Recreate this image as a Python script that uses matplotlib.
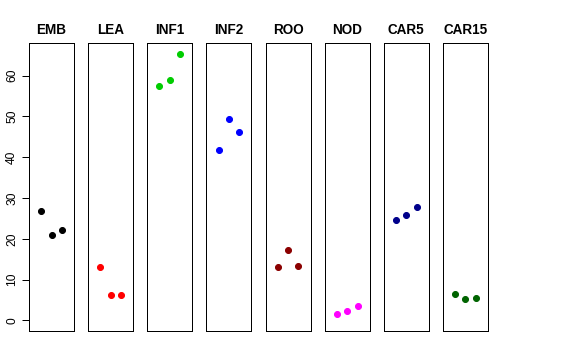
import matplotlib
matplotlib.use("Agg")
import matplotlib.pyplot as plt

plt.rcParams['font.family'] = ['Liberation Sans', 'DejaVu Sans']

# tissues and the three replicate values
tissues = ["EMB", "LEA", "INF1", "INF2", "ROO", "NOD", "CAR5", "CAR15"]
colours = ["black", "red", "#00CD00", "blue", "#8B0000", "magenta", "#00008B", "#006400"]
emb = [26.7, 20.9, 22.2]
lea = [13.0, 6.1, 6.1]
inf1 = [57.5, 58.9, 65.4]
inf2 = [41.8, 49.4, 46.2]
roo = [13.1, 17.3, 13.4]
nod = [1.6, 2.4, 3.4]
car5 = [24.7, 25.8, 27.7]
car15 = [6.4, 5.2, 5.4]
values = [emb, lea, inf1, inf2, roo, nod, car5, car15]
reps = [1, 2, 3]
yticks = [0, 10, 20, 30, 40, 50, 60]

W, H = 576, 360
fig = plt.figure(figsize=(W / 72, H / 72), dpi=72)

ymax = max(max(v) for v in values)
pad = 0.04 * ymax

for i, (name, col, vals) in enumerate(zip(tissues, colours, values)):
    left = 29 + i * 59.14
    ax = fig.add_axes([left / W, (H - 331) / H, 45 / W, 288 / H])
    ax.plot(reps, vals, 'o', color=col, ms=6, mec=col)
    ax.set_xlim(-0.16, 4.16)
    ax.set_ylim(-pad, ymax + pad)
    ax.set_xticks([])
    for s in ax.spines.values():
        s.set_color("black")
        s.set_linewidth(1)
    ax.set_title(name, fontsize=13.5, fontweight='bold', pad=9)
    if i == 0:
        ax.set_yticks(yticks)
        ax.set_yticklabels([str(t) for t in yticks], rotation=90, va='center', fontsize=12)
        ax.tick_params(axis='y', length=7, width=1, pad=4)
    else:
        ax.set_yticks([])

fig.savefig("out.png", dpi=72)
